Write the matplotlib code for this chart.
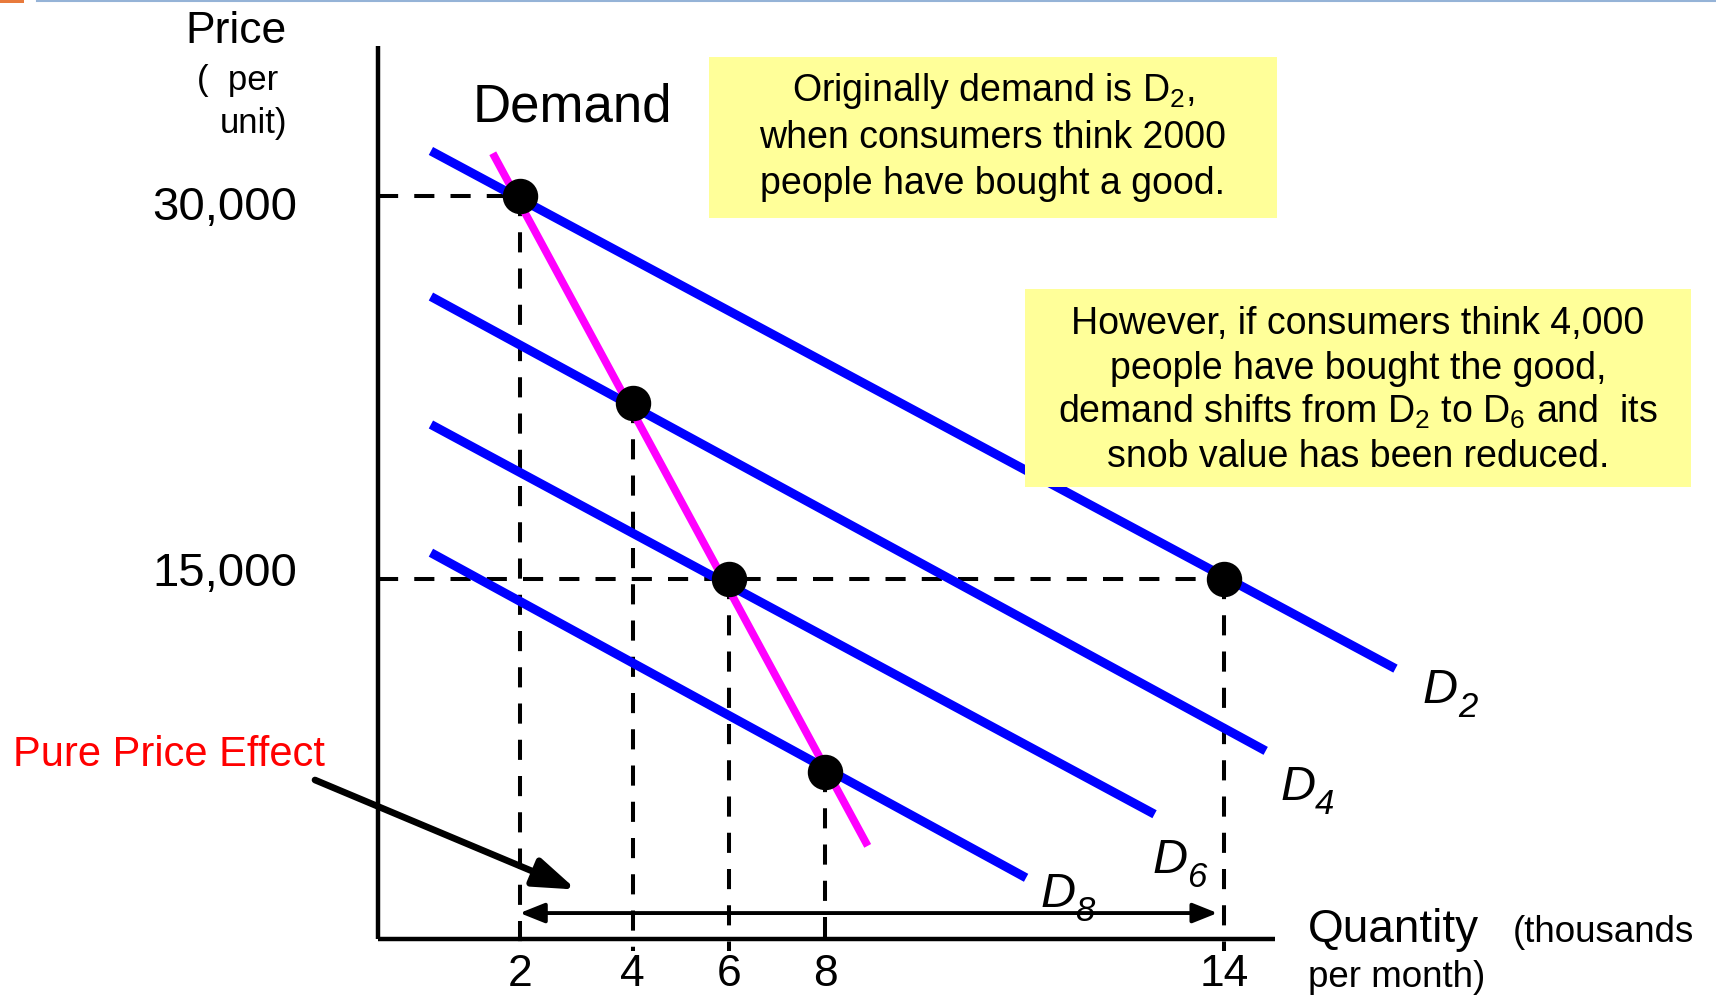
import numpy as np
import matplotlib.pyplot as plt
import matplotlib.transforms as mtransforms
from matplotlib.patches import Rectangle

plt.rcParams['font.family'] = ['Liberation Sans', 'DejaVu Sans']
plt.rcParams['mathtext.fontset'] = 'custom'
plt.rcParams['mathtext.rm'] = 'Liberation Sans'
plt.rcParams['mathtext.it'] = 'Liberation Sans:italic'

# Datos
eq_qty = [2, 4, 6, 8, 14]
eq_price = [30000, 21900, 15000, 7450, 15000]

demand_names = ['2', '4', '6', '8']
demand_q = [(0.75, 16.57), (0.75, 14.62), (0.75, 12.95), (0.75, 11.02)]
demand_p = [(31760, 11490), (26060, 8270), (21050, 5790), (16030, 3300)]

snob_q = [1.62, 8.64]
snob_p = [31670, 4550]

price_ticks = [30000, 15000]
price_labels = ['30,000', '15,000']
qty_ticks = [2, 4, 6, 8, 14]
qty_labels = ['2', '4', '6', '8', '14']

arrow_price = 1920

# eje x esquemático (no lineal, como en la diapositiva)
knot_q = [0, 2, 4, 6, 8, 14, 20]
knot_px = [377.6, 519.8, 632.6, 728.9, 825.2, 1224.6, 1624.0]

W, H = 1716, 997


def fwd(q):
    return np.interp(q, knot_q, knot_px)


def inv(p):
    return np.interp(p, knot_px, knot_q)


def fx(x):
    return x / W


def fy(y):
    return 1 - y / H


fig = plt.figure(figsize=(W / 100, H / 100), dpi=100)
ax = fig.add_axes([fx(377.6), fy(939), (1275 - 377.6) / W, (939 - 46) / H])
ax.set_xscale('function', functions=(fwd, inv))
ax.set_xlim(0, 14.76)
ax.set_ylim(904, 35870)

for s in ['top', 'right']:
    ax.spines[s].set_visible(False)
for s in ['left', 'bottom']:
    ax.spines[s].set_linewidth(3.2)
    ax.spines[s].set_capstyle('butt')

ax.set_xticks(qty_ticks, qty_labels)
ax.set_yticks(price_ticks, price_labels)
ax.minorticks_off()
ax.tick_params(axis='x', length=0, pad=11, labelsize=32)
ax.tick_params(axis='y', length=0, pad=58, labelsize=34)
# pequeño ajuste vertical de las etiquetas de precio
for lbl, dy in zip(ax.get_yticklabels(), [-5, 7]):
    lbl.set_transform(lbl.get_transform() +
                      mtransforms.ScaledTranslation(0, dy / 72, fig.dpi_scale_trans))

# líneas discontinuas
dash = (0, (5, 4))
ax.plot([0, 2], [30000, 30000], ls=dash, lw=2.9, color='k', zorder=1)
ax.plot([0, 14], [15000, 15000], ls=dash, lw=2.9, color='k', zorder=1)
for q, p in zip(eq_qty, eq_price):
    ax.plot([q, q], [p, 420], ls=dash, lw=2.9, color='k', zorder=1, clip_on=False)

# curvas de demanda
for qs, ps in zip(demand_q, demand_p):
    ax.plot(qs, ps, color='#0000FF', lw=6.5, solid_capstyle='butt', zorder=2, clip_on=False)

# curva de demanda con efecto esnob
ax.plot(snob_q, snob_p, color='#FF00FF', lw=5.6, solid_capstyle='butt', zorder=3)

ax.plot(eq_qty, eq_price, 'o', ms=24.5, color='k', zorder=5, clip_on=False)

# flecha doble
ax.annotate('', xy=(14, arrow_price), xytext=(2, arrow_price),
            arrowprops=dict(arrowstyle='<|-|>,head_length=0.75,head_width=0.3',
                            lw=2.8, color='k', shrinkA=0, shrinkB=5, mutation_scale=20))

# flecha efecto precio puro
ax.annotate('', xy=(3.0, 2840), xytext=(315, H - 780), textcoords='figure pixels',
            arrowprops=dict(arrowstyle='-|>,head_length=1.15,head_width=0.4',
                            lw=4.8, color='k', shrinkA=0, shrinkB=0, mutation_scale=22),
            annotation_clip=False)

# etiquetas de las curvas (D cursiva con subíndice cursivo)
d_pos = [(1423, 703), (1280, 800), (1152, 873), (1040, 907)]
for name, (x, y) in zip(demand_names, d_pos):
    fig.text(fx(x), fy(y), 'D', fontsize=35, style='italic', ha='left', va='baseline')
    fig.text(fx(x + 35), fy(y + 14), name, fontsize=25, style='italic',
             ha='left', va='baseline')

# textos
fig.text(fx(185), fy(43), 'Price', fontsize=32, ha='left', va='baseline')
fig.text(fx(197), fy(90), '(  per', fontsize=25, ha='left', va='baseline')
fig.text(fx(220), fy(133), 'unit)', fontsize=25, ha='left', va='baseline')
fig.text(fx(473), fy(122), 'Demand', fontsize=38, ha='left', va='baseline')
fig.text(fx(1308), fy(942), 'Quantity', fontsize=33, ha='left', va='baseline')
fig.text(fx(1513), fy(942), '(thousands', fontsize=26.5, ha='left', va='baseline')
fig.text(fx(1308), fy(987), 'per month)', fontsize=26.5, ha='left', va='baseline')
fig.text(fx(13), fy(766), 'Pure Price Effect', fontsize=30, color='#FF0000',
         ha='left', va='baseline')

# cuadros amarillos
box1 = Rectangle((fx(709), fy(218)), (1277 - 709) / W, (218 - 57) / H,
                 transform=fig.transFigure, facecolor='#FFFF99', edgecolor='none', zorder=0)
box2 = Rectangle((fx(1025), fy(487)), (1691 - 1025) / W, (487 - 289) / H,
                 transform=fig.transFigure, facecolor='#FFFF99', edgecolor='none', zorder=0)
fig.patches.extend([box1, box2])

box1_lines = ['Originally demand is D$_2$,', 'when consumers think 2000',
              'people have bought a good.']
for line, y in zip(box1_lines, [101, 148, 194]):
    fig.text(fx(993), fy(y), line, fontsize=27, ha='center', va='baseline', zorder=6)

box2_lines = ['However, if consumers think 4,000', 'people have bought the good,',
              'demand shifts from D$_2$ to D$_6$ and  its', 'snob value has been reduced.']
for line, y in zip(box2_lines, [334, 379, 423, 467]):
    fig.text(fx(1358), fy(y), line, fontsize=27, ha='center', va='baseline', zorder=6)

# decoración de la diapositiva
fig.patches.append(Rectangle((0, fy(3)), fx(24), 3 / H, transform=fig.transFigure,
                             facecolor='#E87A3C', edgecolor='none'))
fig.lines.append(plt.Line2D([fx(37), 1], [fy(1), fy(1)], transform=fig.transFigure,
                            color='#95B3D7', lw=1.5))

fig.savefig('out.png', dpi=100)
plt.close(fig)
